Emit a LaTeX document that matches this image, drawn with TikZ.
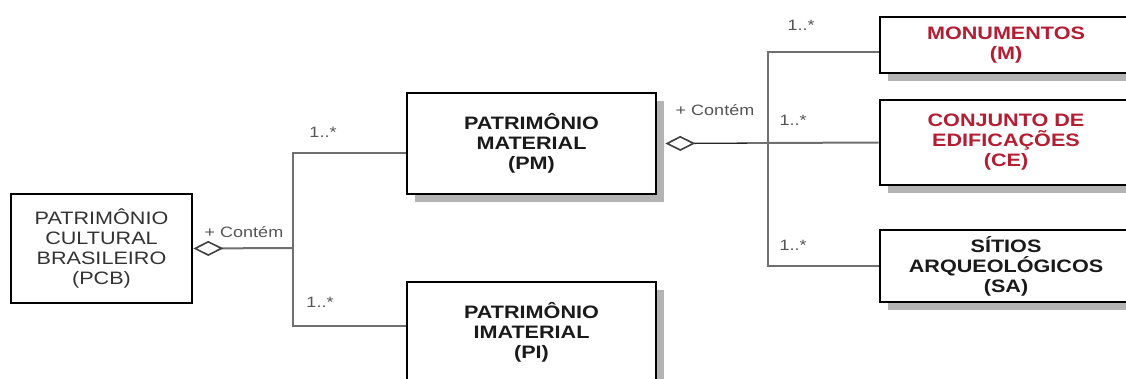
\documentclass[tikz,border=0pt]{standalone}
\usepackage{fontspec}
\setmainfont{Liberation Sans}
\newfontfamily\boxfont[FakeStretch=1.2]{Liberation Sans}
\usetikzlibrary{arrows.meta,shadows}
\definecolor{txt}{HTML}{1A1A1A}
\definecolor{pcbtxt}{HTML}{333333}
\definecolor{lbl}{HTML}{555555}
\definecolor{conngray}{HTML}{707070}
\definecolor{shadowgray}{HTML}{B4B4B4}
\definecolor{redtxt}{RGB}{180,30,50}
\tikzset{
  umlbox/.style={draw=black, line width=2.6pt, fill=white, align=center, inner sep=0pt,
    font=\boxfont\bfseries\fontsize{18}{20}\selectfont, text=txt},
  plainbox/.style={umlbox, font=\boxfont\fontsize{18}{20}\selectfont, text=pcbtxt},
  shadowed/.style={drop shadow={shadow xshift=8pt, shadow yshift=-8pt, fill=shadowgray, opacity=1}},
  conn/.style={draw=conngray, line width=2pt},
  darkconn/.style={draw=black!85, line width=1.3pt},
  agg/.style={{Diamond[fill=white, color=black!75, length=30pt, width=15pt, line width=1.6pt]}-},
  lab/.style={font=\boxfont\fontsize{15}{16}\selectfont, text=lbl, inner sep=0pt},
}
\begin{document}
\begin{tikzpicture}[x=1pt,y=-1pt]
\useasboundingbox (0,0) rectangle (1126,379);
\clip (0,0) rectangle (1126,379);
\fill[white] (0,0) rectangle (1126,379);

% boxes
\node[plainbox, minimum width=181pt, minimum height=109pt] (pcb) at (101.5,248.5)
  {PATRIMÔNIO\\CULTURAL\\BRASILEIRO\\(PCB)};
\node[umlbox, shadowed, minimum width=249pt, minimum height=101pt] (pm) at (531.5,143.5)
  {PATRIMÔNIO\\MATERIAL\\(PM)};
\node[umlbox, shadowed, minimum width=249pt, minimum height=100pt] (pi) at (531.5,332)
  {PATRIMÔNIO\\IMATERIAL\\(PI)};
\node[umlbox, shadowed, text=redtxt, minimum width=252pt, minimum height=56pt] (m) at (1006,45)
  {MONUMENTOS\\(M)};
\node[umlbox, shadowed, text=redtxt, minimum width=252pt, minimum height=85pt] (ce) at (1006,142.5)
  {CONJUNTO DE\\EDIFICAÇÕES\\(CE)};
\node[umlbox, shadowed, minimum width=252pt, minimum height=72pt] (sa) at (1006,266)
  {SÍTIOS\\ARQUEOLÓGICOS\\(SA)};

% junctions
\coordinate (j1) at (293,248);
\coordinate (j2) at (768,143);

% connectors from PCB
\draw[conn, agg] (pcb.east) -- (j1);
\draw[conn] (j1) |- ([yshift=-9.5pt]pm.west);
\draw[conn] (j1) |- ([yshift=6pt]pi.west);

% connectors from PM
\draw[darkconn, agg] ([xshift=8pt]pm.east) -- (j2);
\draw[conn] (j2) |- ([yshift=-7pt]m.west);
\draw[conn] (j2) -- (ce.west);
\draw[conn] (j2) |- (sa.west);

% labels
\node[lab] (c1) at (244,232) {+ Contém};
\node[lab] (c2) at (715,110) {+ Contém};
\node[lab] (n1) at (323,132) {1..*};
\node[lab] (n2) at (320,302) {1..*};
\node[lab] (n3) at (801,25) {1..*};
\node[lab] (n4) at (793,120) {1..*};
\node[lab] (n5) at (793,245) {1..*};
\end{tikzpicture}
\end{document}
